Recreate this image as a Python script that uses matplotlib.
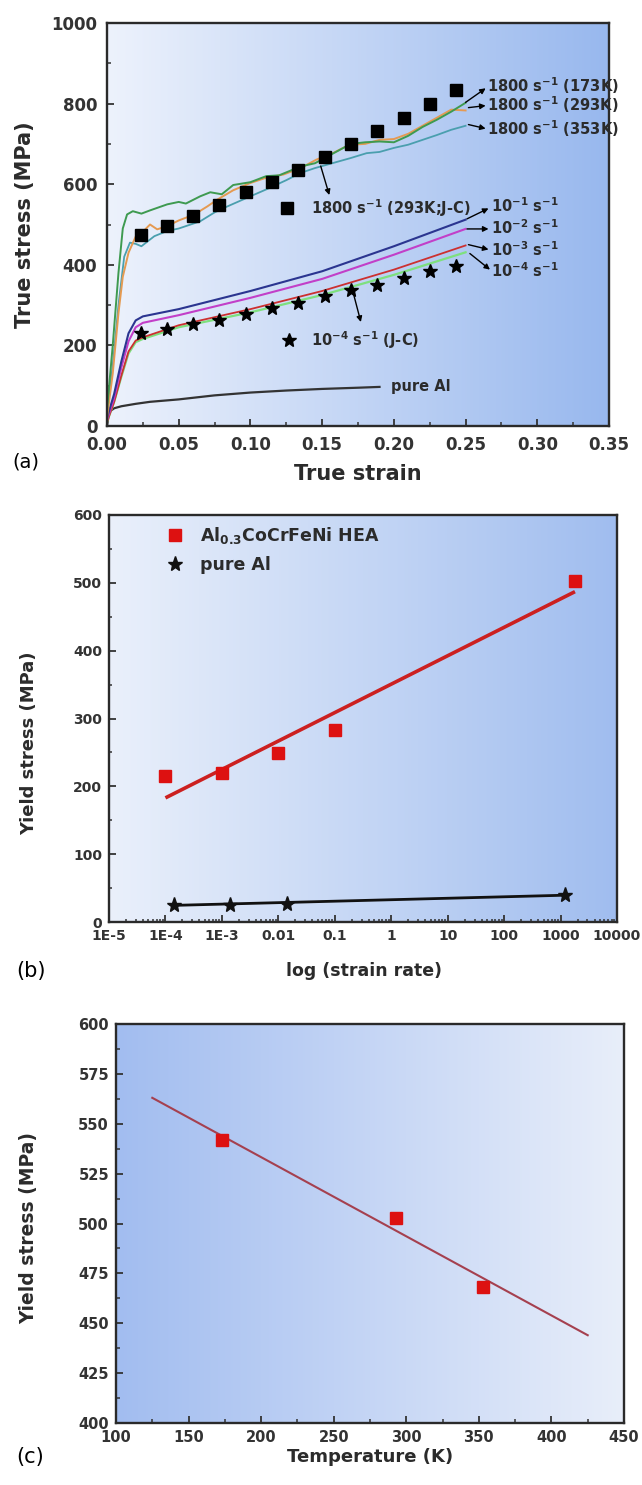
import numpy as np
import matplotlib
matplotlib.use('Agg')
import matplotlib.pyplot as plt
from matplotlib.colors import LinearSegmentedColormap
from matplotlib.ticker import MultipleLocator, FixedLocator, FixedFormatter, LogLocator, NullFormatter, FormatStrFormatter
from matplotlib.lines import Line2D

# ---------------- data: panel (a) ----------------
x_173 = [0, 0.004, 0.008, 0.011, 0.014, 0.018, 0.024, 0.03, 0.042, 0.05, 0.055, 0.065, 0.072, 0.08, 0.088,
         0.1, 0.111, 0.12, 0.135, 0.145, 0.158, 0.17, 0.18, 0.19, 0.2, 0.21, 0.22, 0.23, 0.24, 0.25]
y_173 = [40, 200, 380, 490, 525, 533, 527, 535, 550, 556, 552, 570, 580, 575, 598,
         605, 620, 622, 644, 652, 677, 700, 704, 706, 704, 720, 742, 760, 780, 802]
x_293 = [0, 0.004, 0.008, 0.011, 0.015, 0.02, 0.025, 0.03, 0.035, 0.042, 0.05, 0.061, 0.07, 0.077, 0.088,
         0.1, 0.11, 0.123, 0.135, 0.146, 0.158, 0.169, 0.18, 0.19, 0.2, 0.21, 0.22, 0.23, 0.24, 0.25]
y_293 = [20, 130, 280, 370, 430, 470, 482, 500, 488, 496, 510, 525, 545, 562, 585,
         603, 615, 624, 640, 661, 678, 698, 700, 710, 712, 725, 745, 765, 785, 783]
x_353 = [0, 0.004, 0.008, 0.012, 0.016, 0.02, 0.024, 0.033, 0.042, 0.05, 0.065, 0.075, 0.084, 0.1,
         0.111, 0.125, 0.135, 0.145, 0.158, 0.17, 0.181, 0.19, 0.2, 0.21, 0.22, 0.23, 0.24, 0.25]
y_353 = [30, 150, 300, 420, 455, 452, 446, 471, 484, 490, 508, 530, 545, 570,
         587, 610, 628, 640, 653, 665, 677, 680, 690, 698, 710, 722, 735, 745]
x_qs = [0, 0.005, 0.01, 0.015, 0.02, 0.025, 0.05, 0.1, 0.15, 0.2, 0.25]
y_1e1 = [20, 80, 160, 230, 262, 272, 290, 335, 384, 446, 512]
y_1e2 = [15, 70, 145, 210, 245, 256, 275, 318, 365, 425, 489]
y_1e3 = [10, 60, 125, 185, 212, 220, 250, 290, 335, 388, 448]
y_1e4 = [10, 60, 122, 180, 208, 216, 245, 282, 325, 375, 431]
x_al = [0, 0.0015, 0.005, 0.01, 0.02, 0.03, 0.05, 0.075, 0.1, 0.125, 0.15, 0.175, 0.19]
y_al = [0, 35, 44, 49, 55, 60, 66, 76, 83, 88, 92, 95, 97]
x_jc = [0.024, 0.042, 0.06, 0.078, 0.097, 0.115, 0.133, 0.152, 0.17, 0.188, 0.207, 0.225, 0.243]
y_jc_1800 = [474, 497, 522, 549, 580, 606, 636, 667, 700, 733, 765, 800, 834]
y_jc_1e4 = [230, 240, 252, 263, 279, 292, 306, 323, 337, 350, 368, 384, 398]

# ---------------- data: panel (b) ----------------
rate_hea = [1e-4, 1e-3, 1e-2, 1e-1, 1800]
ys_hea = [215, 219, 249, 283, 502]
fit_hea_x = [1e-4, 1800]
fit_hea_y = [183, 487]
rate_al = [1.4e-4, 1.4e-3, 1.4e-2, 1200]
ys_al = [25, 25, 26, 40]
fit_al_x = [1.4e-4, 1200]
fit_al_y = [24.5, 39.5]
b_ticks = [1e-5, 1e-4, 1e-3, 1e-2, 1e-1, 1, 10, 100, 1000, 10000]
b_ticklabels = ['1E-5', '1E-4', '1E-3', '0.01', '0.1', '1', '10', '100', '1000', '10000']

# ---------------- data: panel (c) ----------------
temp = [173, 293, 353]
ys_temp = [542, 503, 468]
fit_t_x = [125, 425]
fit_t_y = [563, 444]

# ---------------- style ----------------
plt.rcParams['font.family'] = ['DejaVu Sans']
plt.rcParams['font.weight'] = 'bold'
plt.rcParams['mathtext.fontset'] = 'custom'
plt.rcParams['mathtext.rm'] = 'DejaVu Sans:bold'
plt.rcParams['mathtext.bf'] = 'DejaVu Sans:bold'
plt.rcParams['mathtext.it'] = 'DejaVu Sans:bold:italic'
plt.rcParams['mathtext.default'] = 'rm'

W, H = 642, 1485
fig = plt.figure(figsize=(W / 100, H / 100), dpi=100)
TXT = '#2b2b2b'


def rect(l, t, r, b):
    return [l / W, 1 - b / H, (r - l) / W, (b - t) / H]


def make_ax(r, c_left, c_right):
    bg = fig.add_axes(r, zorder=0)
    cmap = LinearSegmentedColormap.from_list('g', [c_left, c_right])
    bg.imshow(np.linspace(0, 1, 256)[None, :], aspect='auto', cmap=cmap, extent=[0, 1, 0, 1])
    bg.set_axis_off()
    ax = fig.add_axes(r, zorder=1)
    ax.patch.set_alpha(0)
    for side in ['top', 'right', 'bottom', 'left']:
        ax.spines[side].set_color('#2a2a2a')
        ax.spines[side].set_linewidth(1.7)
    ax.tick_params(which='both', direction='in', top=False, right=False, colors='#333333')
    ax.tick_params(which='major', length=5, width=1.3)
    ax.tick_params(which='minor', length=3, width=1.1)
    return ax


def ft(x, y, s, **kw):
    kw.setdefault('color', TXT)
    fig.text(x / W, 1 - y / H, s, **kw)


# ================= panel (a) =================
axa = make_ax(rect(107, 23, 609, 426), '#edf2fc', '#98b8ee')
axa.plot(x_al, y_al, color='#333333', lw=1.6)
axa.plot(x_qs, y_1e4, color='#7ee07e', lw=1.6)
axa.plot(x_qs, y_1e3, color='#cc3030', lw=1.3)
axa.plot(x_qs, y_1e2, color='#c23fc8', lw=1.5)
axa.plot(x_qs, y_1e1, color='#2b3590', lw=1.5)
axa.plot(x_353, y_353, color='#4a9fae', lw=1.3)
axa.plot(x_293, y_293, color='#e59a52', lw=1.4)
axa.plot(x_173, y_173, color='#3e9a50', lw=1.4)
axa.plot(x_jc, y_jc_1800, ls='none', marker='s', ms=8, color='black')
axa.plot(x_jc, y_jc_1e4, ls='none', marker='*', ms=10, color='black')

axa.set_xlim(0, 0.35)
axa.set_ylim(0, 1000)
axa.xaxis.set_major_locator(MultipleLocator(0.05))
axa.xaxis.set_minor_locator(MultipleLocator(0.025))
axa.xaxis.set_major_formatter(FormatStrFormatter('%.2f'))
axa.yaxis.set_major_locator(MultipleLocator(200))
axa.yaxis.set_minor_locator(MultipleLocator(100))
axa.tick_params(which='major', labelsize=12)
axa.tick_params(axis='x', which='major', pad=7)
axa.tick_params(axis='y', which='major', pad=7)

ann_fs = 10.5
arrow_kw = dict(arrowstyle='-|>', color='black', lw=1.0, mutation_scale=8, shrinkA=0, shrinkB=0)


def arrow(ax, tail, head):
    ax.annotate('', xy=head, xytext=tail, arrowprops=arrow_kw, annotation_clip=False)


arrow(axa, (0.250, 803), (0.264, 838))
axa.text(0.265, 845, '1800 s$^{-1}$ (173K)', fontsize=ann_fs, va='center', ha='left', color=TXT)
arrow(axa, (0.252, 790), (0.264, 795))
axa.text(0.265, 797, '1800 s$^{-1}$ (293K)', fontsize=ann_fs, va='center', ha='left', color=TXT)
arrow(axa, (0.252, 748), (0.264, 738))
axa.text(0.265, 738, '1800 s$^{-1}$ (353K)', fontsize=ann_fs, va='center', ha='left', color=TXT)

arrow(axa, (0.251, 514), (0.266, 540))
axa.text(0.268, 546, '10$^{-1}$ s$^{-1}$', fontsize=ann_fs, va='center', ha='left', color=TXT)
arrow(axa, (0.251, 489), (0.266, 489))
axa.text(0.268, 492, '10$^{-2}$ s$^{-1}$', fontsize=ann_fs, va='center', ha='left', color=TXT)
arrow(axa, (0.252, 450), (0.266, 438))
axa.text(0.268, 438, '10$^{-3}$ s$^{-1}$', fontsize=ann_fs, va='center', ha='left', color=TXT)
arrow(axa, (0.253, 428), (0.267, 388))
axa.text(0.268, 385, '10$^{-4}$ s$^{-1}$', fontsize=ann_fs, va='center', ha='left', color=TXT)

# key for J-C points
axa.plot([0.1255], [540], ls='none', marker='s', ms=8, color='black')
axa.text(0.142, 540, '1800 s$^{-1}$ (293K;J-C)', fontsize=ann_fs, va='center', ha='left', color=TXT)
arrow(axa, (0.149, 645), (0.155, 573))
axa.plot([0.1266], [214], ls='none', marker='*', ms=10, color='black')
axa.text(0.142, 214, '10$^{-4}$ s$^{-1}$ (J-C)', fontsize=ann_fs, va='center', ha='left', color=TXT)
arrow(axa, (0.172, 326), (0.177, 258))
axa.text(0.198, 98, 'pure Al', fontsize=ann_fs, va='center', ha='left', color=TXT)

ft(25, 225, 'True stress (MPa)', rotation=90, fontsize=15, ha='center', va='center')
ft(358, 474, 'True strain', fontsize=15, ha='center', va='center')
ft(12, 462, '(a)', fontsize=14, fontweight='normal', ha='left', va='center', color='black')

# ================= panel (b) =================
axb = make_ax(rect(109, 515, 617, 922), '#eaf0fb', '#a0bdef')
axb.set_xscale('log')
axb.plot(fit_hea_x, fit_hea_y, color='#cc2020', lw=2.6, solid_capstyle='butt')
axb.plot(fit_al_x, fit_al_y, color='#111111', lw=2.0)
axb.plot(rate_hea, ys_hea, ls='none', marker='s', ms=9, color='#dd1111')
axb.plot(rate_al, ys_al, ls='none', marker='*', ms=11, color='#111111')
axb.set_xlim(1e-5, 1e4)
axb.set_ylim(0, 600)
axb.xaxis.set_major_locator(FixedLocator(b_ticks))
axb.xaxis.set_major_formatter(FixedFormatter(b_ticklabels))
axb.xaxis.set_minor_locator(LogLocator(base=10, subs=np.arange(2, 10), numticks=30))
axb.xaxis.set_minor_formatter(NullFormatter())
axb.yaxis.set_major_locator(MultipleLocator(100))
axb.yaxis.set_minor_locator(MultipleLocator(50))
axb.tick_params(which='major', labelsize=10, pad=5)
axb.tick_params(which='minor', length=2.5)

handles = [Line2D([], [], ls='none', marker='s', ms=9, color='#dd1111'),
           Line2D([], [], ls='none', marker='*', ms=11, color='#111111')]
leg = axb.legend(handles, ['Al$_{0.3}$CoCrFeNi HEA', 'pure Al'], loc='upper left',
                 bbox_to_anchor=(0.093, 1.0), frameon=False, fontsize=12.5,
                 handlelength=1.0, handletextpad=0.9, labelspacing=0.55, borderaxespad=0.2)
for t in leg.get_texts():
    t.set_color(TXT)

ft(29, 743, 'Yield stress (MPa)', rotation=90, fontsize=13, ha='center', va='center')
ft(364, 971, 'log (strain rate)', fontsize=12.5, ha='center', va='center')
ft(16, 971, '(b)', fontsize=15, fontweight='normal', ha='left', va='center', color='black')

# ================= panel (c) =================
axc = make_ax(rect(116, 1024, 624, 1423), '#a2bdf0', '#e8eefa')
axc.plot(fit_t_x, fit_t_y, color='#a5404f', lw=1.5)
axc.plot(temp, ys_temp, ls='none', marker='s', ms=8.5, color='#dd1111')
axc.set_xlim(100, 450)
axc.set_ylim(400, 600)
axc.xaxis.set_major_locator(MultipleLocator(50))
axc.xaxis.set_minor_locator(MultipleLocator(25))
axc.yaxis.set_major_locator(MultipleLocator(25))
axc.yaxis.set_minor_locator(MultipleLocator(12.5))
axc.tick_params(which='major', labelsize=10.5, pad=5)

ft(29, 1228, 'Yield stress (MPa)', rotation=90, fontsize=13.5, ha='center', va='center')
ft(370, 1457, 'Temperature (K)', fontsize=13, ha='center', va='center')
ft(16, 1457, '(c)', fontsize=15, fontweight='normal', ha='left', va='center', color='black')

fig.savefig('out.png', dpi=100)
